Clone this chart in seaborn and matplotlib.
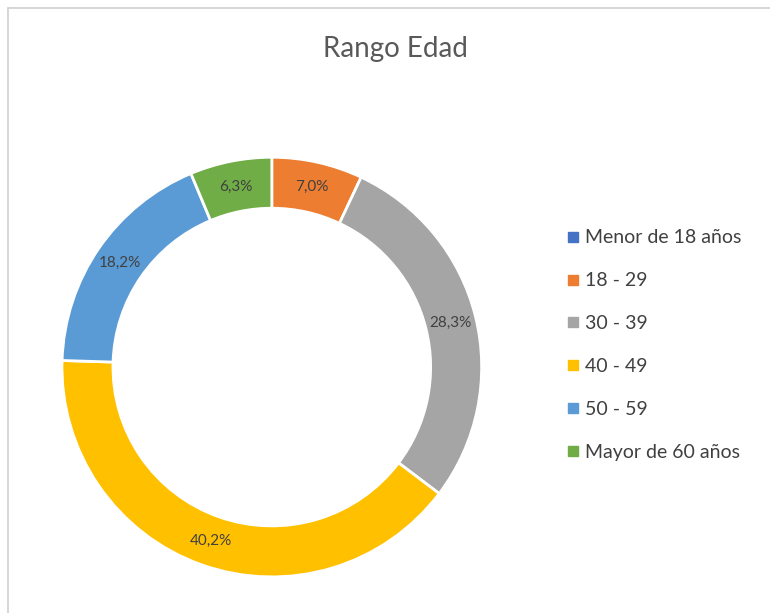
import matplotlib
matplotlib.use("Agg")
import matplotlib.pyplot as plt
from matplotlib.lines import Line2D
import seaborn as sns
import numpy as np

# Data
categories = ['Menor de 18 años', '18 - 29', '30 - 39', '40 - 49', '50 - 59', 'Mayor de 60 años']
values = [0.0, 7.0, 28.3, 40.2, 18.2, 6.3]
colors = ['#4472C4', '#ED7D31', '#A5A5A5', '#FFC000', '#5B9BD5', '#70AD47']

sns.set_theme(style="white")
plt.rcParams['font.family'] = ['Lato', 'DejaVu Sans']

fig = plt.figure(figsize=(7.7, 6.13), dpi=100)
ax = fig.add_axes([0.0805, 0.0587, 0.545, 0.685])

pal = sns.color_palette(colors)
wedges, _ = ax.pie(values, colors=pal, startangle=90, counterclock=False,
                   radius=1.0,
                   wedgeprops=dict(width=0.243, edgecolor='white', linewidth=2))
ax.set_xlim(-1, 1)
ax.set_ylim(-1, 1)
ax.set_aspect('equal')
ax.axis('off')

# Percent labels at the middle of the ring
total = sum(values)
cum = 0.0
for v in values:
    if v > 0:
        mid = cum + v / 2
        ang = np.deg2rad(90 - 360 * mid / total)
        r = 0.878
        ax.text(r * np.cos(ang), r * np.sin(ang), f"{v:.1f}%".replace('.', ','),
                ha='center', va='center', fontsize=11, color='#404040')
    cum += v

fig.text(0.513, 0.92, 'Rango Edad', ha='center', va='center',
         fontsize=20, color='#595959')

handles = [Line2D([0], [0], marker='s', linestyle='', markersize=6.5,
                  markerfacecolor=c, markeredgecolor=c) for c in colors]
fig.legend(handles, categories, loc='center left', bbox_to_anchor=(0.713, 0.437),
           frameon=False, fontsize=14, labelcolor='#404040', labelspacing=1.33,
           handletextpad=0.25, handlelength=0.7)

# Chart border (top and left edges visible)
fig.add_artist(Line2D([8 / 770, 8 / 770], [0, 1 - 8 / 613], color='#D0D0D0', lw=1.2,
                      transform=fig.transFigure))
fig.add_artist(Line2D([8 / 770, 1], [1 - 8 / 613, 1 - 8 / 613], color='#D0D0D0', lw=1.2,
                      transform=fig.transFigure))

fig.savefig('out.png', dpi=100)
